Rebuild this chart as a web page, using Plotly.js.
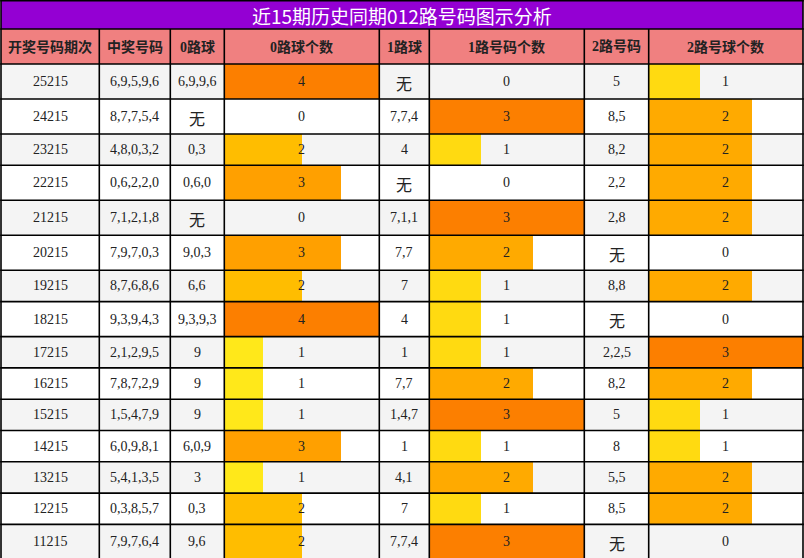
<!DOCTYPE html>
<html>
<head>
<meta charset="utf-8">
<script src="https://cdn.plot.ly/plotly-3.0.1.min.js"></script>
<style>
  html, body { margin: 0; padding: 0; background: #ffffff; }
  #chart { width: 804px; height: 558px; }
</style>
</head>
<body>
<div id="chart"></div>
<script>
// ---- data ----
const title = '近15期历史同期012路号码图示分析';
const headers = ['开奖号码期次', '中奖号码', '0路球', '0路球个数', '1路球', '1路号码个数', '2路号码', '2路号球个数'];

const periods = ['25215', '24215', '23215', '22215', '21215', '20215', '19215', '18215',
  '17215', '16215', '15215', '14215', '13215', '12215', '11215'];
const draws = ['6,9,5,9,6', '8,7,7,5,4', '4,8,0,3,2', '0,6,2,2,0', '7,1,2,1,8', '7,9,7,0,3',
  '8,7,6,8,6', '9,3,9,4,3', '2,1,2,9,5', '7,8,7,2,9', '1,5,4,7,9', '6,0,9,8,1',
  '5,4,1,3,5', '0,3,8,5,7', '7,9,7,6,4'];
const road0 = ['6,9,9,6', '无', '0,3', '0,6,0', '无', '9,0,3', '6,6', '9,3,9,3',
  '9', '9', '9', '6,0,9', '3', '0,3', '9,6'];
const count0 = [4, 0, 2, 3, 0, 3, 2, 4, 1, 1, 1, 3, 1, 2, 2];
const road1 = ['无', '7,7,4', '4', '无', '7,1,1', '7,7', '7', '4',
  '1', '7,7', '1,4,7', '1', '4,1', '7', '7,7,4'];
const count1 = [0, 3, 1, 0, 3, 2, 1, 1, 1, 2, 3, 1, 2, 1, 3];
const road2 = ['5', '8,5', '8,2', '2,2', '2,8', '无', '8,8', '无',
  '2,2,5', '8,2', '5', '8', '5,5', '8,5', '无'];
const count2 = [1, 2, 2, 2, 2, 0, 2, 0, 3, 2, 1, 1, 2, 2, 0];

// ---- layout geometry (pixels) ----
const W = 804, H = 558;
const colEdges = [1, 99.3, 170.3, 224.3, 379.3, 429.3, 584.3, 648.7, 803];
const titleBottom = 29;
const headBottom = 64;
const FONT = '"Liberation Serif", "Noto Sans CJK SC", serif';
const CJK = '"Noto Sans CJK SC", sans-serif';

// matplotlib "Wistia" ramp used for the count bars
const wistia = [[0, '#e4ff7a'], [0.25, '#ffe81a'], [0.5, '#ffbd00'], [0.75, '#ffa000'], [1, '#fc7f00']];

const textCols = [periods, draws, road0, count0.map(String), road1, count1.map(String), road2, count2.map(String)];

// rows holding a 无 glyph come out a little taller in the reference
const rowH = periods.map((_, i) => textCols.some(c => c[i] === '无') ? 35 : 31.3);
const rowTop = [];
let yy = headBottom;
rowH.forEach(h => { rowTop.push(yy); yy += h; });
const rowMid = rowTop.map((t, i) => t + rowH[i] / 2);
const tableBottom = yy;

const colMid = i => (colEdges[i] + colEdges[i + 1]) / 2;

// ---- traces: count bars, each column on its own x axis ----
const traces = [];
const barCols = [[count0, 'x2'], [count1, 'x3'], [count2, 'x4']];
barCols.forEach(([vals, ax]) => {
  traces.push({
    type: 'bar',
    orientation: 'h',
    x: vals,
    y: rowMid,
    width: rowH,
    base: 0,
    xaxis: ax,
    yaxis: 'y',
    marker: {
      color: vals,
      colorscale: wistia,
      cmin: 0,
      cmax: Math.max(...vals),
      line: { width: 0 }
    },
    hoverinfo: 'skip',
    showlegend: false
  });
});

// ---- text as annotations so it sits above the bars ----
const annotations = [];
const note = (x, y, text, family, size, color) => ({
  xref: 'x', yref: 'y', x, y, text, showarrow: false,
  xanchor: 'center', yanchor: 'middle',
  font: { family, size, color }
});

textCols.forEach((col, ci) => {
  col.forEach((v, ri) => {
    const cjk = v === '无';
    annotations.push(note(colMid(ci), rowMid[ri] + (cjk ? 1 : 0), v, cjk ? CJK : FONT, cjk ? 16 : 14, '#222222'));
  });
});
headers.forEach((h, ci) => {
  annotations.push(note(colMid(ci), (titleBottom + headBottom) / 2, '<b>' + h + '</b>', FONT, 14, '#222222'));
});
annotations.push(note(W / 2, titleBottom / 2 + 1, title, CJK, 19, '#ffffff'));

// ---- shapes: cell fills below, grid lines above ----
const shapes = [];
const rect = (x0, x1, y0, y1, fill) => ({
  type: 'rect', xref: 'x', yref: 'y', x0, x1, y0, y1,
  fillcolor: fill, line: { width: 0 }, layer: 'below'
});
const line = (x0, x1, y0, y1) => ({
  type: 'line', xref: 'x', yref: 'y', x0, x1, y0, y1,
  line: { color: '#000000', width: 1.6 }, layer: 'above'
});

shapes.push(rect(colEdges[0], colEdges[8], 0.8, titleBottom, '#9400d3'));
shapes.push(rect(colEdges[0], colEdges[8], titleBottom, headBottom, '#f08080'));
rowTop.forEach((t, i) => {
  shapes.push(rect(colEdges[0], colEdges[8], t, t + rowH[i], i % 2 === 0 ? '#f4f4f4' : '#ffffff'));
});

// horizontal rules
[0.8, titleBottom, headBottom, ...rowTop.slice(1), tableBottom].forEach(y => {
  shapes.push(line(colEdges[0] - 0.8, colEdges[8] + 0.8, y, y));
});
// vertical rules
shapes.push(line(colEdges[0], colEdges[0], 0, tableBottom));
shapes.push(line(colEdges[8], colEdges[8], 0, tableBottom));
colEdges.slice(1, 8).forEach(x => {
  shapes.push(line(x, x, titleBottom, tableBottom));
});

// ---- layout ----
const hidden = { visible: false, fixedrange: true, showgrid: false, zeroline: false };
const barAxis = (ci, max) => Object.assign({}, hidden, {
  anchor: 'y',
  domain: [colEdges[ci] / W, colEdges[ci + 1] / W],
  range: [0, max]
});

const layout = {
  width: W,
  height: H,
  margin: { l: 0, r: 0, t: 0, b: 0, pad: 0 },
  paper_bgcolor: '#ffffff',
  plot_bgcolor: 'rgba(0,0,0,0)',
  showlegend: false,
  bargap: 0,
  xaxis: Object.assign({}, hidden, { range: [0, W], domain: [0, 1] }),
  xaxis2: barAxis(3, Math.max(...count0)),
  xaxis3: barAxis(5, Math.max(...count1)),
  xaxis4: barAxis(7, Math.max(...count2)),
  yaxis: Object.assign({}, hidden, { range: [H, 0], domain: [0, 1] }),
  shapes: shapes,
  annotations: annotations,
  hovermode: false
};

Plotly.newPlot('chart', traces, layout, { displayModeBar: false, staticPlot: true });
</script>
</body>
</html>
